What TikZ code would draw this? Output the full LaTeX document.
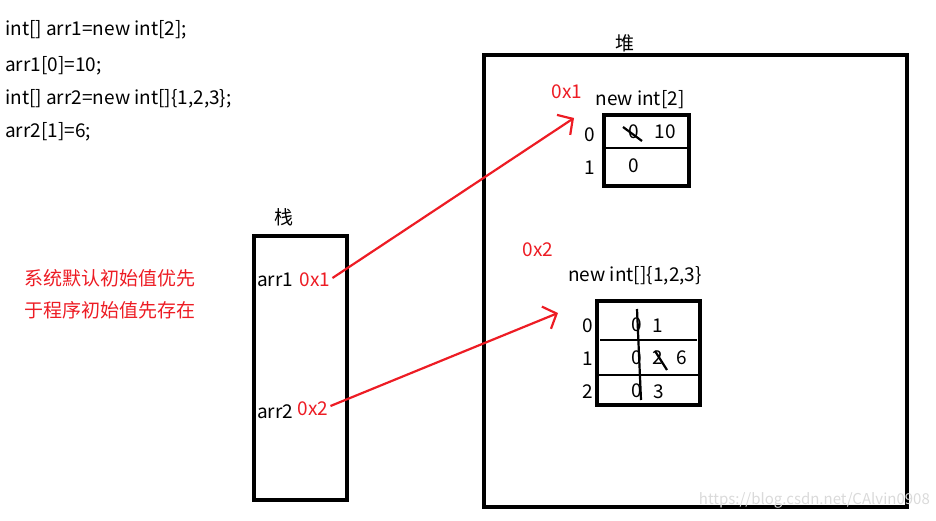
\documentclass[tikz,border=0pt]{standalone}
\usepackage{fontspec}
\setmainfont{Noto Sans CJK SC}
\usetikzlibrary{arrows.meta}
\definecolor{pred}{HTML}{ED1C24}
\definecolor{wm}{HTML}{DADADA}
\tikzset{
  txt/.style={inner sep=0pt, font=\fontsize{19}{22}\selectfont},
  code/.style={txt, anchor=west},
  rtxt/.style={txt, text=pred},
  frame/.style={draw=black, line width=3.2pt},
  divider/.style={draw=black, line width=2.8pt},
  strike/.style={draw=black, line width=2.2pt},
  ptr/.style={draw=pred, line width=2.2pt, -{Straight Barb[length=11pt,width=24pt,line width=2.2pt]}}
}
\begin{document}
\begin{tikzpicture}[x=1pt,y=-1pt]
\useasboundingbox (0,0) rectangle (936,521);
% code
\node[code] (c1) at (5,30) {int[] arr1=new int[2];};
\node[code] (c2) at (5,66) {arr1[0]=10;};
\node[code] (c3) at (5,99) {int[] arr2=new int[]\{1,2,3\};};
\node[code] (c4) at (5,132) {arr2[1]=6;};
% note
\node[rtxt, anchor=west] (n1) at (24,278) {系统默认初始值优先};
\node[rtxt, anchor=west] (n2) at (24,310) {于程序初始值先存在};
% stack
\node[txt] (stl) at (284,217) {栈};
\draw[frame] (254,236) rectangle (347,500);
\node[txt] (a1) at (275,280) {arr1};
\node[rtxt] (s1) at (315,280) {0x1};
\node[txt] (a2) at (275,412) {arr2};
\node[rtxt] (s2) at (313,409) {0x2};
% heap
\node[txt] (hpl) at (625,43) {堆};
\draw[frame] (484,55) rectangle (907,507);
% array 1
\node[rtxt] (h1) at (567,92) {0x1};
\node[txt] (t1) at (640,100) {new int[2]};
\draw[frame] (604,115) rectangle (689,186);
\draw[divider] (604,148) -- (689,148);
\node[txt] (r10) at (590,135) {0};
\node[txt] (r11) at (590,168) {1};
\node[txt] (v10) at (634,132) {0};
\node[txt] (v10b) at (665,132) {10};
\node[txt] (v11) at (634,166) {0};
\draw[strike] (623,127) -- (642,141);
% array 2
\node[rtxt] (h2) at (538,250) {0x2};
\node[txt] (t2) at (635,276) {new int[]\{1,2,3\}};
\draw[frame] (597,301) rectangle (700,405);
\draw[divider] (600,340) -- (697,340);
\draw[divider] (597,375) -- (700,375);
\node[txt] (r20) at (588,326) {0};
\node[txt] (r21) at (588,359) {1};
\node[txt] (r22) at (588,392) {2};
\node[txt] (v20) at (637,325) {0};
\node[txt] (v20b) at (658,326) {1};
\node[txt] (v21) at (637,358) {0};
\node[txt] (v21b) at (658,358) {2};
\node[txt] (v21c) at (682,358) {6};
\node[txt] (v22) at (637,391) {0};
\node[txt] (v22b) at (659,392) {3};
\draw[strike] (655,351) -- (667,370);
\draw[strike] (637,309) -- (641,400);
% pointers
\coordinate (p1) at (574,118);
\coordinate (p2) at (558,313);
\draw[ptr] (s1.east) ++(2,-2) coordinate (q1) (q1) -- (p1);
\draw[ptr] (s2.east) ++(2,-3) coordinate (q2) (q2) -- (p2);
% watermark
\node[txt, text=wm, anchor=east, font=\fontsize{15}{17}\selectfont] (wmk) at (930,500) {https://blog.csdn.net/CAlvin0908};
\end{tikzpicture}
\end{document}
